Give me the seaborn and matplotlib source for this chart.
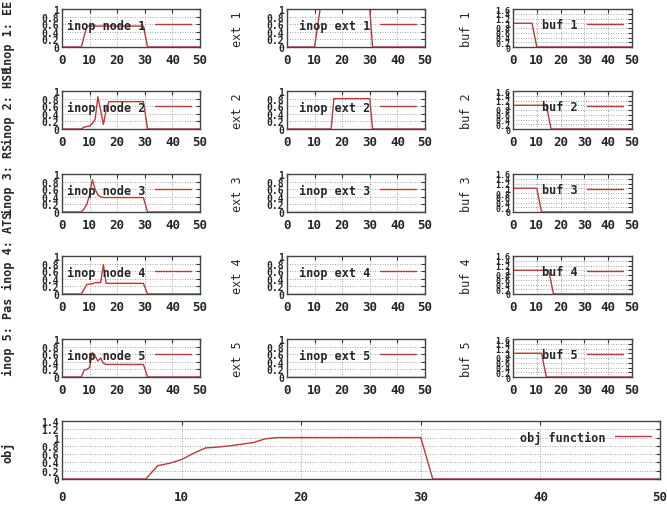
import seaborn as sns
from matplotlib import pyplot as plt

# values (time step -> value)
node1_x = [0, 7, 9, 29.5, 31, 50]
node1_y = [0, 0, 0.55, 0.55, 0, 0]
node2_x = [0, 7, 8, 10, 11, 12, 13, 14, 15, 16, 17, 29.5, 31, 50]
node2_y = [0, 0, 0.05, 0.08, 0.15, 0.25, 0.85, 0.5, 0.12, 0.5, 0.72, 0.72, 0, 0]
node3_x = [0, 7, 8, 9, 10, 11, 12, 13, 14, 15, 29.5, 31, 50]
node3_y = [0, 0, 0.08, 0.2, 0.45, 0.85, 0.6, 0.45, 0.4, 0.38, 0.38, 0, 0]
node4_x = [0, 7, 9, 11, 12, 14, 15, 16, 29.5, 31, 50]
node4_y = [0, 0, 0.25, 0.27, 0.3, 0.3, 0.77, 0.28, 0.28, 0, 0]
node5_x = [0, 7, 8, 9, 10, 11, 12, 13, 14, 15, 16, 29.5, 31, 50]
node5_y = [0, 0, 0.18, 0.2, 0.25, 0.64, 0.55, 0.42, 0.5, 0.36, 0.33, 0.33, 0, 0]

ext1_x = [0, 10, 12, 30, 31, 50]
ext1_y = [0, 0, 1, 1, 0, 0]
ext2_x = [0, 16, 17, 30, 31, 50]
ext2_y = [0, 0, 0.8, 0.8, 0, 0]
ext3_x = [0, 50]
ext3_y = [0, 0]
ext4_x = [0, 50]
ext4_y = [0, 0]
ext5_x = [0, 50]
ext5_y = [0, 0]

buf1_x = [0, 8, 10, 50]
buf1_y = [1, 1, 0, 0]
buf2_x = [0, 14, 16, 50]
buf2_y = [1, 1, 0, 0]
buf3_x = [0, 10, 12, 50]
buf3_y = [1, 1, 0, 0]
buf4_x = [0, 15, 17, 50]
buf4_y = [1, 1, 0, 0]
buf5_x = [0, 12, 14, 50]
buf5_y = [1, 1, 0, 0]

obj_x = [0, 7, 8, 9, 10, 11, 12, 13, 14, 15, 16, 17, 18, 30, 31, 50]
obj_y = [0, 0, 0.32, 0.38, 0.47, 0.62, 0.75, 0.77, 0.8, 0.84, 0.88, 0.97, 1.0, 1.0, 0, 0]

inop_labels = ['inop 1: EE', 'inop 2: HSP', 'inop 3: RS', 'inop 4: ATS', 'inop 5: Pas']
x_ticks = [0, 10, 20, 30, 40, 50]
y_ticks = [0, 0.2, 0.4, 0.6, 0.8, 1]
buf_ticks = [0, 0.2, 0.4, 0.6, 0.8, 1, 1.2, 1.4, 1.6]
obj_ticks = [0, 0.2, 0.4, 0.6, 0.8, 1, 1.2, 1.4]

nodes = [(node1_x, node1_y), (node2_x, node2_y), (node3_x, node3_y), (node4_x, node4_y), (node5_x, node5_y)]
exts = [(ext1_x, ext1_y), (ext2_x, ext2_y), (ext3_x, ext3_y), (ext4_x, ext4_y), (ext5_x, ext5_y)]
bufs = [(buf1_x, buf1_y), (buf2_x, buf2_y), (buf3_x, buf3_y), (buf4_x, buf4_y), (buf5_x, buf5_y)]

RED = '#b83a3a'
W, H = 667, 506

sns.set_style('white')
plt.rcParams['font.family'] = ['DejaVu Sans Mono']
plt.rcParams['font.weight'] = 'bold'


def box(left, top, right, bottom):
    return [left / W, 1 - bottom / H, (right - left) / W, (bottom - top) / H]


def style(ax, yticks, ylim, ytick_size=7):
    ax.set_xlim(0, 50)
    ax.set_ylim(*ylim)
    ax.set_xticks(x_ticks)
    ax.set_yticks(yticks)
    ax.set_yticklabels([f'{v:g}' for v in yticks], fontsize=ytick_size)
    ax.tick_params(axis='x', labelsize=9, pad=4)
    ax.tick_params(axis='y', pad=2)
    ax.tick_params(direction='in', top=True, right=True, length=3, width=0.8, color='#333333')
    ax.grid(True, color='#888888', linestyle=(0, (1, 2)), linewidth=0.6)
    for s in ax.spines.values():
        s.set_color('#444444')
        s.set_linewidth(1.0)
    ax.set_xlabel('')
    ax.set_ylabel('')


def key(ax):
    ax.legend(loc='upper right', markerfirst=False, frameon=False, fontsize=8.5,
              handlelength=3.0, handletextpad=0.8, borderaxespad=0.6, borderpad=0.2)


fig = plt.figure(figsize=(W / 100, H / 100), dpi=100)
tops = [10, 92, 175, 257, 340]
row_h = 38

for i in range(5):
    top = tops[i]
    # inop node column
    ax = fig.add_axes(box(62, top, 200, top + row_h))
    sns.lineplot(x=nodes[i][0], y=nodes[i][1], ax=ax, color=RED, linewidth=1,
                 label=f'inop node {i + 1}', estimator=None, sort=False)
    style(ax, y_ticks, (0, 1))
    key(ax)

    # inop ext column
    ax = fig.add_axes(box(287, top, 425, top + row_h))
    sns.lineplot(x=exts[i][0], y=exts[i][1], ax=ax, color=RED, linewidth=1,
                 label=f'inop ext {i + 1}', estimator=None, sort=False)
    style(ax, y_ticks, (0, 1))
    key(ax)
    ax.set_ylabel(f'ext {i + 1}', fontsize=8.5, labelpad=16)

    # buffer column
    ax = fig.add_axes(box(513, top, 632, top + row_h))
    sns.lineplot(x=bufs[i][0], y=bufs[i][1], ax=ax, color=RED, linewidth=1,
                 label=f'buf {i + 1}', estimator=None, sort=False)
    style(ax, buf_ticks, (0, 1.6), ytick_size=6)
    key(ax)
    ax.set_ylabel(f'buf {i + 1}', fontsize=8.5, labelpad=16)

# overlapping row labels on the far left
label_starts = [72, 145, 215, 290, 376]
for lab, y0 in zip(inop_labels, label_starts):
    fig.text(8 / W, 1 - y0 / H, lab, rotation=90, ha='center', va='bottom', fontsize=8.5)

# objective function
ax = fig.add_axes(box(62, 422, 660, 480))
sns.lineplot(x=obj_x, y=obj_y, ax=ax, color=RED, linewidth=1,
             label='obj function', estimator=None, sort=False)
style(ax, obj_ticks, (0, 1.4))
ax.tick_params(axis='x', pad=8)
key(ax)
fig.text(8 / W, 1 - 452 / H, 'obj', rotation=90, ha='center', va='center', fontsize=8.5)

fig.savefig('out.png', dpi=100)
